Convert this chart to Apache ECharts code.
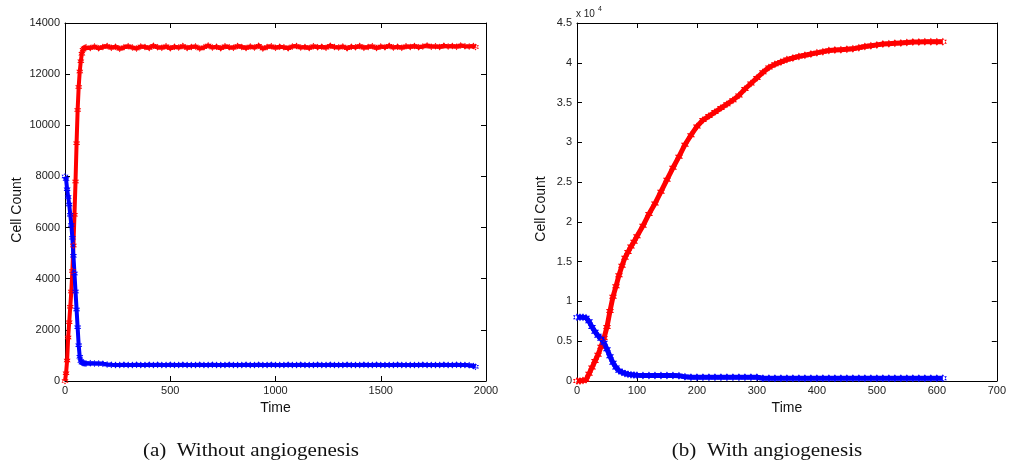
<!DOCTYPE html>
<html>
<head>
<meta charset="utf-8">
<script src="https://cdn.jsdelivr.net/npm/echarts@6/dist/echarts.min.js"></script>
<style>html,body{margin:0;padding:0;background:#fff;}#c{width:1009px;height:462px;}</style>
</head>
<body>
<div id="c"></div>
<script>
// ---- Panel (a): Without angiogenesis ----
const tA = [0,5,10,15,20,25,30,35,40,45,50,55,60,65,70,75,80,85,90,95,100,
120,140,160,180,200,220,240,260,280,300,320,340,360,380,400,420,440,460,480,500,
520,540,560,580,600,620,640,660,680,700,720,740,760,780,800,820,840,860,880,900,
920,940,960,980,1000,1020,1040,1060,1080,1100,1120,1140,1160,1180,1200,1220,1240,1260,1280,1300,
1320,1340,1360,1380,1400,1420,1440,1460,1480,1500,1520,1540,1560,1580,1600,1620,1640,1660,1680,1700,
1720,1740,1760,1780,1800,1820,1840,1860,1880,1900,1920,1940,1950];
const redA = [0,300,800,1700,2300,2900,3500,4300,5300,6500,7800,9300,10600,11500,12100,12500,12800,12950,13000,13030,13050,
13020,13080,13010,13060,13100,13030,13070,12990,13050,13090,
13040,13000,13080,13060,13020,13110,13050,13030,13090,13010,
13070,13040,13100,13020,13060,13080,13000,13050,13120,13040,
13070,13010,13090,13050,13030,13100,13060,13020,13080,13040,
13110,13000,13060,13090,13030,13070,13050,13010,13080,13100,
13040,13060,13020,13090,13050,13070,13030,13110,13060,13040,
13080,13010,13070,13050,13100,13030,13060,13090,13020,13080,
13050,13110,13040,13070,13030,13090,13060,13100,13050,13080,
13120,13070,13090,13060,13110,13080,13100,13070,13120,13090,
13080,13100,13060];
const blueA = [8000,7900,7500,7200,6900,6500,6100,5600,4900,4200,3500,2800,2100,1400,950,780,720,700,690,685,680,
690,685,680,675,645,
632,630,628,631,629,630,633,627,630,632,
629,631,628,630,632,627,630,631,629,630,
628,632,630,629,631,630,627,630,632,629,
630,628,631,630,629,632,630,628,631,630,
629,630,632,628,630,631,629,630,627,631,
630,629,632,630,628,630,631,629,630,628,
632,630,629,631,630,628,630,629,631,630,
628,630,629,630,631,629,630,628,630,631,
629,630,631,628,
625,615,590,560];
const xTicksA = ['0','500','1000','1500','2000'];
const yTicksA = ['0','2000','4000','6000','8000','10000','12000','14000'];

// ---- Panel (b): With angiogenesis ----
const tB = [0,5,10,15,20,25,30,35,40,45,50,55,60,65,70,75,80,85,90,95,100,
110,120,130,140,150,160,170,180,190,200,210,220,230,240,250,260,270,280,290,300,
310,320,330,340,350,360,370,380,390,400,410,420,430,440,450,460,470,480,490,500,
510,520,530,540,550,560,570,580,590,600,610];
const redB = [0,0,50,150,900,1700,2500,3300,4300,5400,6800,8800,10600,11900,13300,14500,15500,16200,16900,17500,18200,
19500,21000,22300,23800,25300,26800,28200,29700,30900,32000,
32800,33300,33800,34300,34800,35300,35900,36700,37400,38100,
38800,39400,39800,40100,40400,40600,40800,40950,41100,41250,
41400,41550,41600,41650,41700,41750,41900,42050,42150,42250,
42350,42400,42450,42500,42550,42600,42600,42650,42650,42650,
42650];
const blueB = [8000,8000,8000,7950,7500,6800,6200,5700,5300,4800,4000,3100,2300,1700,1300,1100,950,850,800,750,720,
700,690,690,685,680,680,675,520,480,480,
480,480,480,480,480,480,480,480,480,470,
340,335,335,330,330,330,330,330,330,330,
330,330,330,330,330,330,330,330,330,330,
330,330,330,330,330,330,330,330,330,330,
330];
const xTicksB = ['0','100','200','300','400','500','600','700'];
const yTicksB = ['0','0.5','1','1.5','2','2.5','3','3.5','4','4.5'];

const pairs = (t, v) => t.map((x, i) => [x, v[i]]);
const STAR = 'path://M0,-10L8.66,5L-8.66,5Z M0,10L8.66,-5L-8.66,-5Z';
const FONT = 'Liberation Sans, Arial, sans-serif';
const SERIF = '18px Liberation Serif, Times New Roman, serif';

function xAx(grid, max, interval, pos, labels) {
  return {
    gridIndex: grid, type: 'value', min: 0, max: max, interval: interval, position: pos,
    name: pos === 'bottom' ? 'Time' : '', nameLocation: 'middle', nameGap: 19,
    nameTextStyle: {fontSize: 14, color: '#111', fontFamily: FONT},
    axisLine: {onZero: false, lineStyle: {color: '#000', width: 1}},
    axisTick: {inside: true, length: 5, lineStyle: {color: '#000'}},
    axisLabel: {show: pos === 'bottom', color: '#222', fontSize: 11, fontFamily: FONT, margin: 4,
      formatter: labels ? (v => labels[Math.round(v / interval)]) : null},
    splitLine: {show: false}
  };
}
function yAx(grid, max, interval, pos, labels) {
  return {
    gridIndex: grid, type: 'value', min: 0, max: max, interval: interval, position: pos,
    axisLine: {onZero: false, lineStyle: {color: '#000', width: 1}},
    axisTick: {inside: true, length: 5, lineStyle: {color: '#000'}},
    axisLabel: {show: pos === 'left', color: '#222', fontSize: 11, fontFamily: FONT, margin: 5,
      formatter: labels ? (v => labels[Math.round(v / interval)]) : null},
    splitLine: {show: false}
  };
}
function ser(xi, yi, data, color, size, lw) {
  return {
    type: 'line', xAxisIndex: xi, yAxisIndex: yi, data: data,
    symbol: STAR, symbolSize: size, showSymbol: true, showAllSymbol: true,
    itemStyle: {color: color}, lineStyle: {color: color, width: lw}, silent: true
  };
}

const chart = echarts.init(document.getElementById('c'), null, {renderer: 'canvas'});
chart.setOption({
  animation: false,
  backgroundColor: '#fff',
  grid: [
    {left: 65, top: 23, width: 421, height: 358},
    {left: 577, top: 23, width: 420, height: 358}
  ],
  xAxis: [
    xAx(0, 2000, 500, 'bottom', xTicksA), xAx(0, 2000, 500, 'top'),
    xAx(1, 700, 100, 'bottom', xTicksB), xAx(1, 700, 100, 'top')
  ],
  yAxis: [
    yAx(0, 14000, 2000, 'left', yTicksA), yAx(0, 14000, 2000, 'right'),
    yAx(1, 45000, 5000, 'left', yTicksB), yAx(1, 45000, 5000, 'right')
  ],
  series: [
    ser(0, 0, pairs(tA, redA), '#ff0000', 7, 4),
    ser(0, 0, pairs(tA, blueA), '#0000ff', 7, 4),
    ser(2, 2, pairs(tB, redB), '#ff0000', 8, 5),
    ser(2, 2, pairs(tB, blueB), '#0000ff', 8, 5)
  ],
  graphic: [
    {type: 'text', x: 17, y: 210, rotation: Math.PI / 2,
      style: {text: 'Cell Count', font: '14px ' + FONT, fill: '#111', textAlign: 'center', textVerticalAlign: 'middle'}},
    {type: 'text', x: 541, y: 209, rotation: Math.PI / 2,
      style: {text: 'Cell Count', font: '14px ' + FONT, fill: '#111', textAlign: 'center', textVerticalAlign: 'middle'}},
    {type: 'text', x: 576, y: 14,
      style: {text: 'x 10', font: '10px ' + FONT, fill: '#222', textAlign: 'left', textVerticalAlign: 'middle'}},
    {type: 'text', x: 598, y: 9,
      style: {text: '4', font: '7px ' + FONT, fill: '#222', textAlign: 'left', textVerticalAlign: 'middle'}},
    {type: 'text', x: 251, y: 451, scaleX: 1.17,
      style: {text: '(a)  Without angiogenesis', font: SERIF, fill: '#111', textAlign: 'center', textVerticalAlign: 'middle'}},
    {type: 'text', x: 767, y: 451, scaleX: 1.17,
      style: {text: '(b)  With angiogenesis', font: SERIF, fill: '#111', textAlign: 'center', textVerticalAlign: 'middle'}}
  ]
});
</script>
</body>
</html>
